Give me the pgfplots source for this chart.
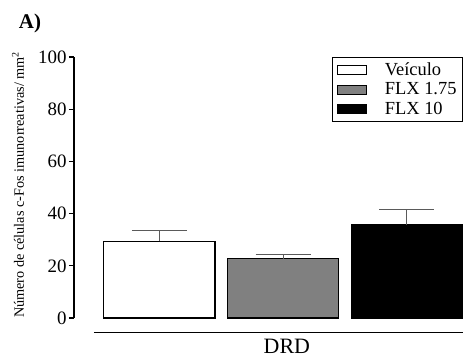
\documentclass[border=0pt]{standalone}
\usepackage{pgfplots}
\pgfplotsset{compat=1.18}
\usepackage{fontspec}
\setmainfont{Liberation Serif}
\definecolor{errc}{HTML}{5A5A5A}
\definecolor{barg}{HTML}{808080}
\begin{document}
\begin{tikzpicture}
\useasboundingbox (0,0) rectangle (464bp,363bp);
\begin{axis}[
  at={(74bp,45bp)}, anchor=south west,
  scale only axis, width=389.8bp, height=261bp,
  xmin=0.31, xmax=3.46, ymin=0, ymax=100,
  clip=false,
  axis y line*=left, axis x line*=bottom,
  x axis line style={draw=none},
  y axis line style={line width=1.2pt, black},
  ytick={0,20,40,60,80,100},
  ytick style={line width=1.2pt, black},
  tick align=outside, major tick length=5bp,
  xtick={2.03}, xticklabels={DRD},
  xtick style={draw=none},
  xticklabel style={font=\fontsize{22}{24}\selectfont, yshift=-16bp, inner sep=0pt},
  yticklabel style={font=\fontsize{19}{22}\selectfont, xshift=1bp},
  /pgf/number format/assume math mode=true,
  ylabel={Número de células c-Fos imunorreativas/ mm\textsuperscript{2}},
  ylabel style={at={(axis description cs:-0.1437,0.51)}, anchor=center, font=\fontsize{14.3}{16}\selectfont},
  ybar, bar width=0.9, bar shift=0,
  legend style={at={(rel axis cs:0.998,1)}, anchor=north east, draw=black, line width=1pt,
    font=\fontsize{18.5}{20}\selectfont, row sep=2bp, column sep=16bp,
    inner xsep=4bp, inner ysep=3bp},
  legend cell align=left,
  legend image code/.code={\draw[#1, line width=1pt] (0bp,-4.5bp) rectangle (29bp,4.5bp);},
]
\addplot[draw=black, fill=white, line width=1.2pt,
  error bars/.cd, y dir=plus, y explicit,
  error bar style={errc, line width=1.2pt},
  error mark options={rotate=90, mark size=27.5bp, errc, line width=1.2pt}]
  coordinates {(1,29.4) +- (0,4.1)};
\addlegendentry{Veículo}
\addplot[draw=black, fill=barg, line width=1.2pt,
  error bars/.cd, y dir=plus, y explicit,
  error bar style={errc, line width=1.2pt},
  error mark options={rotate=90, mark size=27.5bp, errc, line width=1.2pt}]
  coordinates {(2,22.7) +- (0,1.5)};
\addlegendentry{FLX 1.75}
\addplot[draw=black, fill=black, line width=1.2pt,
  error bars/.cd, y dir=plus, y explicit,
  error bar style={errc, line width=1.2pt},
  error mark options={rotate=90, mark size=27.5bp, errc, line width=1.2pt}]
  coordinates {(3,35.6) +- (0,6.1)};
\addlegendentry{FLX 10}
\draw[black, line width=1.3pt] (axis cs:0.47,-5.6) -- (axis cs:3.45,-5.6);
\end{axis}
\node[font=\fontsize{21}{24}\selectfont\bfseries] at (30bp,340bp) {A)};
\end{tikzpicture}
\end{document}
